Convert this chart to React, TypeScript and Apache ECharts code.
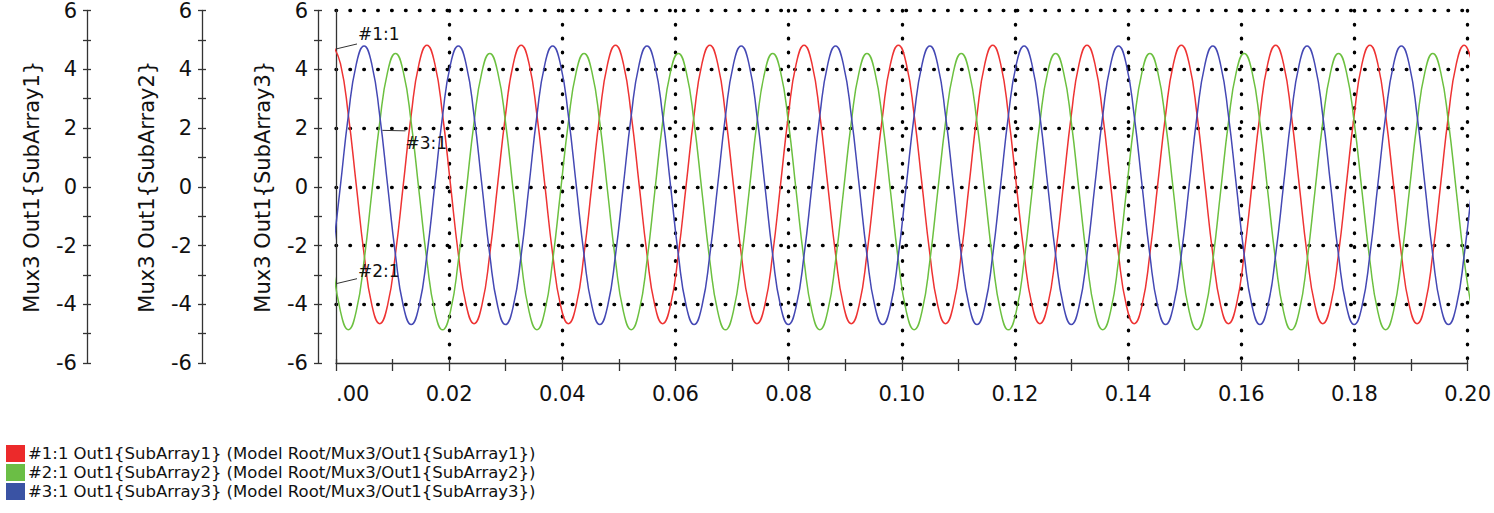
import React, { useEffect, useRef } from "react";
import * as echarts from "echarts";

// Sample times (s): one point every 30 degrees of phase (60 Hz)
const TIME_S = [
  -0.0006, 0.00079, 0.00218, 0.00357, 0.00496, 0.00634, 0.00773, 0.00912, 0.01051, 0.0119, 0.01329, 0.01468,
  0.01607, 0.01746, 0.01884, 0.02023, 0.02162, 0.02301, 0.0244, 0.02579, 0.02718, 0.02857, 0.02996, 0.03134,
  0.03273, 0.03412, 0.03551, 0.0369, 0.03829, 0.03968, 0.04107, 0.04246, 0.04384, 0.04523, 0.04662, 0.04801,
  0.0494, 0.05079, 0.05218, 0.05357, 0.05496, 0.05634, 0.05773, 0.05912, 0.06051, 0.0619, 0.06329, 0.06468,
  0.06607, 0.06746, 0.06884, 0.07023, 0.07162, 0.07301, 0.0744, 0.07579, 0.07718, 0.07857, 0.07996, 0.08134,
  0.08273, 0.08412, 0.08551, 0.0869, 0.08829, 0.08968, 0.09107, 0.09246, 0.09384, 0.09523, 0.09662, 0.09801,
  0.0994, 0.10079, 0.10218, 0.10357, 0.10496, 0.10634, 0.10773, 0.10912, 0.11051, 0.1119, 0.11329, 0.11468,
  0.11607, 0.11746, 0.11884, 0.12023, 0.12162, 0.12301, 0.1244, 0.12579, 0.12718, 0.12857, 0.12996, 0.13134,
  0.13273, 0.13412, 0.13551, 0.1369, 0.13829, 0.13968, 0.14107, 0.14246, 0.14384, 0.14523, 0.14662, 0.14801,
  0.1494, 0.15079, 0.15218, 0.15357, 0.15496, 0.15634, 0.15773, 0.15912, 0.16051, 0.1619, 0.16329, 0.16468,
  0.16607, 0.16746, 0.16884, 0.17023, 0.17162, 0.17301, 0.1744, 0.17579, 0.17718, 0.17857, 0.17996, 0.18134,
  0.18273, 0.18412, 0.18551, 0.1869, 0.18829, 0.18968, 0.19107, 0.19246, 0.19384, 0.19523, 0.19662, 0.19801,
  0.1994, 0.20079,
];

// #1:1 Out1{SubArray1} (red)
const SUBARRAY1 = [
  4.82, 4.19, 2.45, 0.08, -2.29, -4.03, -4.66, -4.03, -2.29, 0.08, 2.45, 4.19,
  4.82, 4.19, 2.45, 0.08, -2.29, -4.03, -4.66, -4.03, -2.29, 0.08, 2.45, 4.19,
  4.82, 4.19, 2.45, 0.08, -2.29, -4.03, -4.66, -4.03, -2.29, 0.08, 2.45, 4.19,
  4.82, 4.19, 2.45, 0.08, -2.29, -4.03, -4.66, -4.03, -2.29, 0.08, 2.45, 4.19,
  4.82, 4.19, 2.45, 0.08, -2.29, -4.03, -4.66, -4.03, -2.29, 0.08, 2.45, 4.19,
  4.82, 4.19, 2.45, 0.08, -2.29, -4.03, -4.66, -4.03, -2.29, 0.08, 2.45, 4.19,
  4.82, 4.19, 2.45, 0.08, -2.29, -4.03, -4.66, -4.03, -2.29, 0.08, 2.45, 4.19,
  4.82, 4.19, 2.45, 0.08, -2.29, -4.03, -4.66, -4.03, -2.29, 0.08, 2.45, 4.19,
  4.82, 4.19, 2.45, 0.08, -2.29, -4.03, -4.66, -4.03, -2.29, 0.08, 2.45, 4.19,
  4.82, 4.19, 2.45, 0.08, -2.29, -4.03, -4.66, -4.03, -2.29, 0.08, 2.45, 4.19,
  4.82, 4.19, 2.45, 0.08, -2.29, -4.03, -4.66, -4.03, -2.29, 0.08, 2.45, 4.19,
  4.82, 4.19, 2.45, 0.08, -2.29, -4.03, -4.66, -4.03, -2.29, 0.08, 2.45, 4.19,
  4.82, 4.19,
];

// #2:1 Out1{SubArray2} (green)
const SUBARRAY2 = [
  -2.52, -4.24, -4.87, -4.24, -2.52, -0.17, 2.19, 3.91, 4.54, 3.91, 2.19, -0.17,
  -2.52, -4.24, -4.87, -4.24, -2.52, -0.17, 2.19, 3.91, 4.54, 3.91, 2.19, -0.17,
  -2.52, -4.24, -4.87, -4.24, -2.52, -0.17, 2.19, 3.91, 4.54, 3.91, 2.19, -0.17,
  -2.52, -4.24, -4.87, -4.24, -2.52, -0.17, 2.19, 3.91, 4.54, 3.91, 2.19, -0.17,
  -2.52, -4.24, -4.87, -4.24, -2.52, -0.17, 2.19, 3.91, 4.54, 3.91, 2.19, -0.17,
  -2.52, -4.24, -4.87, -4.24, -2.52, -0.17, 2.19, 3.91, 4.54, 3.91, 2.19, -0.17,
  -2.52, -4.24, -4.87, -4.24, -2.52, -0.17, 2.19, 3.91, 4.54, 3.91, 2.19, -0.17,
  -2.52, -4.24, -4.87, -4.24, -2.52, -0.17, 2.19, 3.91, 4.54, 3.91, 2.19, -0.17,
  -2.52, -4.24, -4.87, -4.24, -2.52, -0.17, 2.19, 3.91, 4.54, 3.91, 2.19, -0.17,
  -2.52, -4.24, -4.87, -4.24, -2.52, -0.17, 2.19, 3.91, 4.54, 3.91, 2.19, -0.17,
  -2.52, -4.24, -4.87, -4.24, -2.52, -0.17, 2.19, 3.91, 4.54, 3.91, 2.19, -0.17,
  -2.52, -4.24, -4.87, -4.24, -2.52, -0.17, 2.19, 3.91, 4.54, 3.91, 2.19, -0.17,
  -2.52, -4.24,
];

// #3:1 Out1{SubArray3} (blue)
const SUBARRAY3 = [
  -2.32, 0.05, 2.42, 4.16, 4.79, 4.16, 2.42, 0.05, -2.32, -4.06, -4.69, -4.06,
  -2.32, 0.05, 2.42, 4.16, 4.79, 4.16, 2.42, 0.05, -2.32, -4.06, -4.69, -4.06,
  -2.32, 0.05, 2.42, 4.16, 4.79, 4.16, 2.42, 0.05, -2.32, -4.06, -4.69, -4.06,
  -2.32, 0.05, 2.42, 4.16, 4.79, 4.16, 2.42, 0.05, -2.32, -4.06, -4.69, -4.06,
  -2.32, 0.05, 2.42, 4.16, 4.79, 4.16, 2.42, 0.05, -2.32, -4.06, -4.69, -4.06,
  -2.32, 0.05, 2.42, 4.16, 4.79, 4.16, 2.42, 0.05, -2.32, -4.06, -4.69, -4.06,
  -2.32, 0.05, 2.42, 4.16, 4.79, 4.16, 2.42, 0.05, -2.32, -4.06, -4.69, -4.06,
  -2.32, 0.05, 2.42, 4.16, 4.79, 4.16, 2.42, 0.05, -2.32, -4.06, -4.69, -4.06,
  -2.32, 0.05, 2.42, 4.16, 4.79, 4.16, 2.42, 0.05, -2.32, -4.06, -4.69, -4.06,
  -2.32, 0.05, 2.42, 4.16, 4.79, 4.16, 2.42, 0.05, -2.32, -4.06, -4.69, -4.06,
  -2.32, 0.05, 2.42, 4.16, 4.79, 4.16, 2.42, 0.05, -2.32, -4.06, -4.69, -4.06,
  -2.32, 0.05, 2.42, 4.16, 4.79, 4.16, 2.42, 0.05, -2.32, -4.06, -4.69, -4.06,
  -2.32, 0.05,
];

const SERIES_NAMES = [
  "#1:1 Out1{SubArray1} (Model Root/Mux3/Out1{SubArray1})",
  "#2:1 Out1{SubArray2} (Model Root/Mux3/Out1{SubArray2})",
  "#3:1 Out1{SubArray3} (Model Root/Mux3/Out1{SubArray3})",
];
const AXIS_NAMES = ["Mux3 Out1{SubArray1}", "Mux3 Out1{SubArray2}", "Mux3 Out1{SubArray3}"];
const ANNOTATION_LABELS = ["#1:1", "#2:1", "#3:1"];
// data anchor points of the annotation leader lines [time, value]
const ANNOTATION_ANCHORS = [
  [0, 4.69],
  [0, -3.3],
  [0.0082, 1.92],
];

const FONT = "'DejaVu Sans', sans-serif";
const SERIES_COLORS = ["#ee3333", "#6cc040", "#4448b4"];
const LEGEND_COLORS = ["#ec2a2b", "#6bbe45", "#3a53a4"];
const AXIS_COLOR = "#333";
const TEXT_COLOR = "#111";

// pixel offsets for annotation leader lines / texts relative to anchor
const ANNOTATION_LAYOUT = [
  { lx: 21, ly: -5, tx: 22, ty: -15 },
  { lx: 21, ly: -5, tx: 22, ty: -13 },
  { lx: 23, ly: 0.5, tx: 23, ty: 12.5 },
];

function yAxisPair(offset: number, name: string) {
  const range = { min: -6, max: 6, interval: 2 };
  const tickLine = { color: AXIS_COLOR, width: 1.3 };
  return [
    {
      type: "value",
      position: "left",
      offset,
      ...range,
      name,
      nameLocation: "middle",
      nameGap: 45,
      nameTextStyle: { fontFamily: FONT, fontSize: 21, color: TEXT_COLOR },
      axisLine: { show: true, onZero: false, lineStyle: tickLine },
      axisTick: { show: true, length: 4, lineStyle: tickLine },
      minorTick: { show: true, splitNumber: 2, length: 4, lineStyle: tickLine },
      axisLabel: { show: true, margin: 10, fontFamily: FONT, fontSize: 21, color: TEXT_COLOR },
      splitLine: { show: false },
    },
    {
      type: "value",
      position: "left",
      offset,
      ...range,
      axisLine: { show: false, onZero: false },
      axisTick: { show: true, inside: true, length: 4, lineStyle: tickLine },
      minorTick: { show: true, splitNumber: 2, length: 4, lineStyle: tickLine },
      axisLabel: { show: false },
      splitLine: { show: false },
    },
  ];
}

export default function App() {
  const ref = useRef<HTMLDivElement>(null);

  useEffect(() => {
    if (!ref.current) return;
    const chart = echarts.init(ref.current, undefined, { renderer: "svg" });
    const dotted = { color: "#000", width: 3.4, type: [0.6, 13.3], cap: "round" };
    const tickLine = { color: AXIS_COLOR, width: 1.3 };
    const seriesData = [SUBARRAY1, SUBARRAY2, SUBARRAY3];

    const option: any = {
      animation: false,
      backgroundColor: "#ffffff",
      grid: { left: 336, top: 9, right: 26, bottom: 150, containLabel: false },
      xAxis: [
        {
          type: "value",
          min: 0,
          max: 0.2,
          interval: 0.02,
          position: "bottom",
          axisLine: { show: true, onZero: false, lineStyle: tickLine },
          axisTick: { show: true, length: 8, lineStyle: tickLine },
          minorTick: { show: true, splitNumber: 2, length: 8, lineStyle: tickLine },
          axisLabel: {
            show: true,
            margin: 20,
            fontFamily: FONT,
            fontSize: 21,
            color: TEXT_COLOR,
            showMinLabel: true,
            showMaxLabel: true,
            alignMinLabel: "left",
            formatter: (v: number) => (v === 0 ? ".00" : v.toFixed(2)),
          },
          splitLine: { show: true, showMinLine: false, lineStyle: dotted },
        },
        {
          type: "value",
          min: 0,
          max: 0.2,
          interval: 0.02,
          position: "bottom",
          axisLine: { show: false, onZero: false },
          axisTick: { show: true, inside: true, length: 4, lineStyle: tickLine },
          minorTick: { show: true, splitNumber: 2, length: 4, lineStyle: tickLine },
          axisLabel: { show: false },
          splitLine: { show: false },
        },
      ],
      yAxis: [
        {
          type: "value",
          position: "left",
          min: -6,
          max: 6,
          interval: 2,
          axisLine: { show: true, onZero: false, lineStyle: tickLine },
          axisTick: { show: false },
          axisLabel: { show: false },
          splitLine: { show: true, showMinLine: false, lineStyle: dotted },
        },
        ...yAxisPair(249, AXIS_NAMES[0]),
        ...yAxisPair(134, AXIS_NAMES[1]),
        ...yAxisPair(18, AXIS_NAMES[2]),
      ],
      legend: {
        orient: "vertical",
        left: 1,
        top: 440,
        itemWidth: 19,
        itemHeight: 17,
        itemGap: 2,
        icon: "rect",
        selectedMode: false,
        textStyle: { fontFamily: FONT, fontSize: 16.5, color: TEXT_COLOR, padding: [0, 0, 0, -2] },
        data: SERIES_NAMES.map((n, i) => ({ name: n, itemStyle: { color: LEGEND_COLORS[i] } })),
      },
      series: SERIES_NAMES.map((name, i) => ({
        name,
        type: "line",
        xAxisIndex: 0,
        yAxisIndex: 0,
        data: TIME_S.map((t, k) => [t, seriesData[i][k]]),
        showSymbol: false,
        symbol: "none",
        smooth: 0.5,
        clip: true,
        color: SERIES_COLORS[i],
        lineStyle: { color: SERIES_COLORS[i], width: 1.5 },
        silent: true,
      })),
    };
    chart.setOption(option);

    const graphics: any[] = [];
    ANNOTATION_LABELS.forEach((label, i) => {
      const p = chart.convertToPixel({ xAxisIndex: 0, yAxisIndex: 0 }, ANNOTATION_ANCHORS[i]) as number[];
      const l = ANNOTATION_LAYOUT[i];
      graphics.push({
        type: "line",
        shape: { x1: p[0], y1: p[1], x2: p[0] + l.lx, y2: p[1] + l.ly },
        style: { stroke: "#333", lineWidth: 1 },
        z: 10,
      });
      graphics.push({
        type: "text",
        x: p[0] + l.tx,
        y: p[1] + l.ty,
        style: {
          text: label,
          fontFamily: FONT,
          fontSize: 17,
          fill: TEXT_COLOR,
          align: "left",
          verticalAlign: "middle",
        },
        z: 10,
      });
    });
    chart.setOption({ graphic: graphics });

    return () => chart.dispose();
  }, []);

  return (
    <div
      ref={ref}
      style={{ position: "fixed", left: 0, top: 0, width: 1494, height: 513, background: "#fff" }}
    />
  );
}
